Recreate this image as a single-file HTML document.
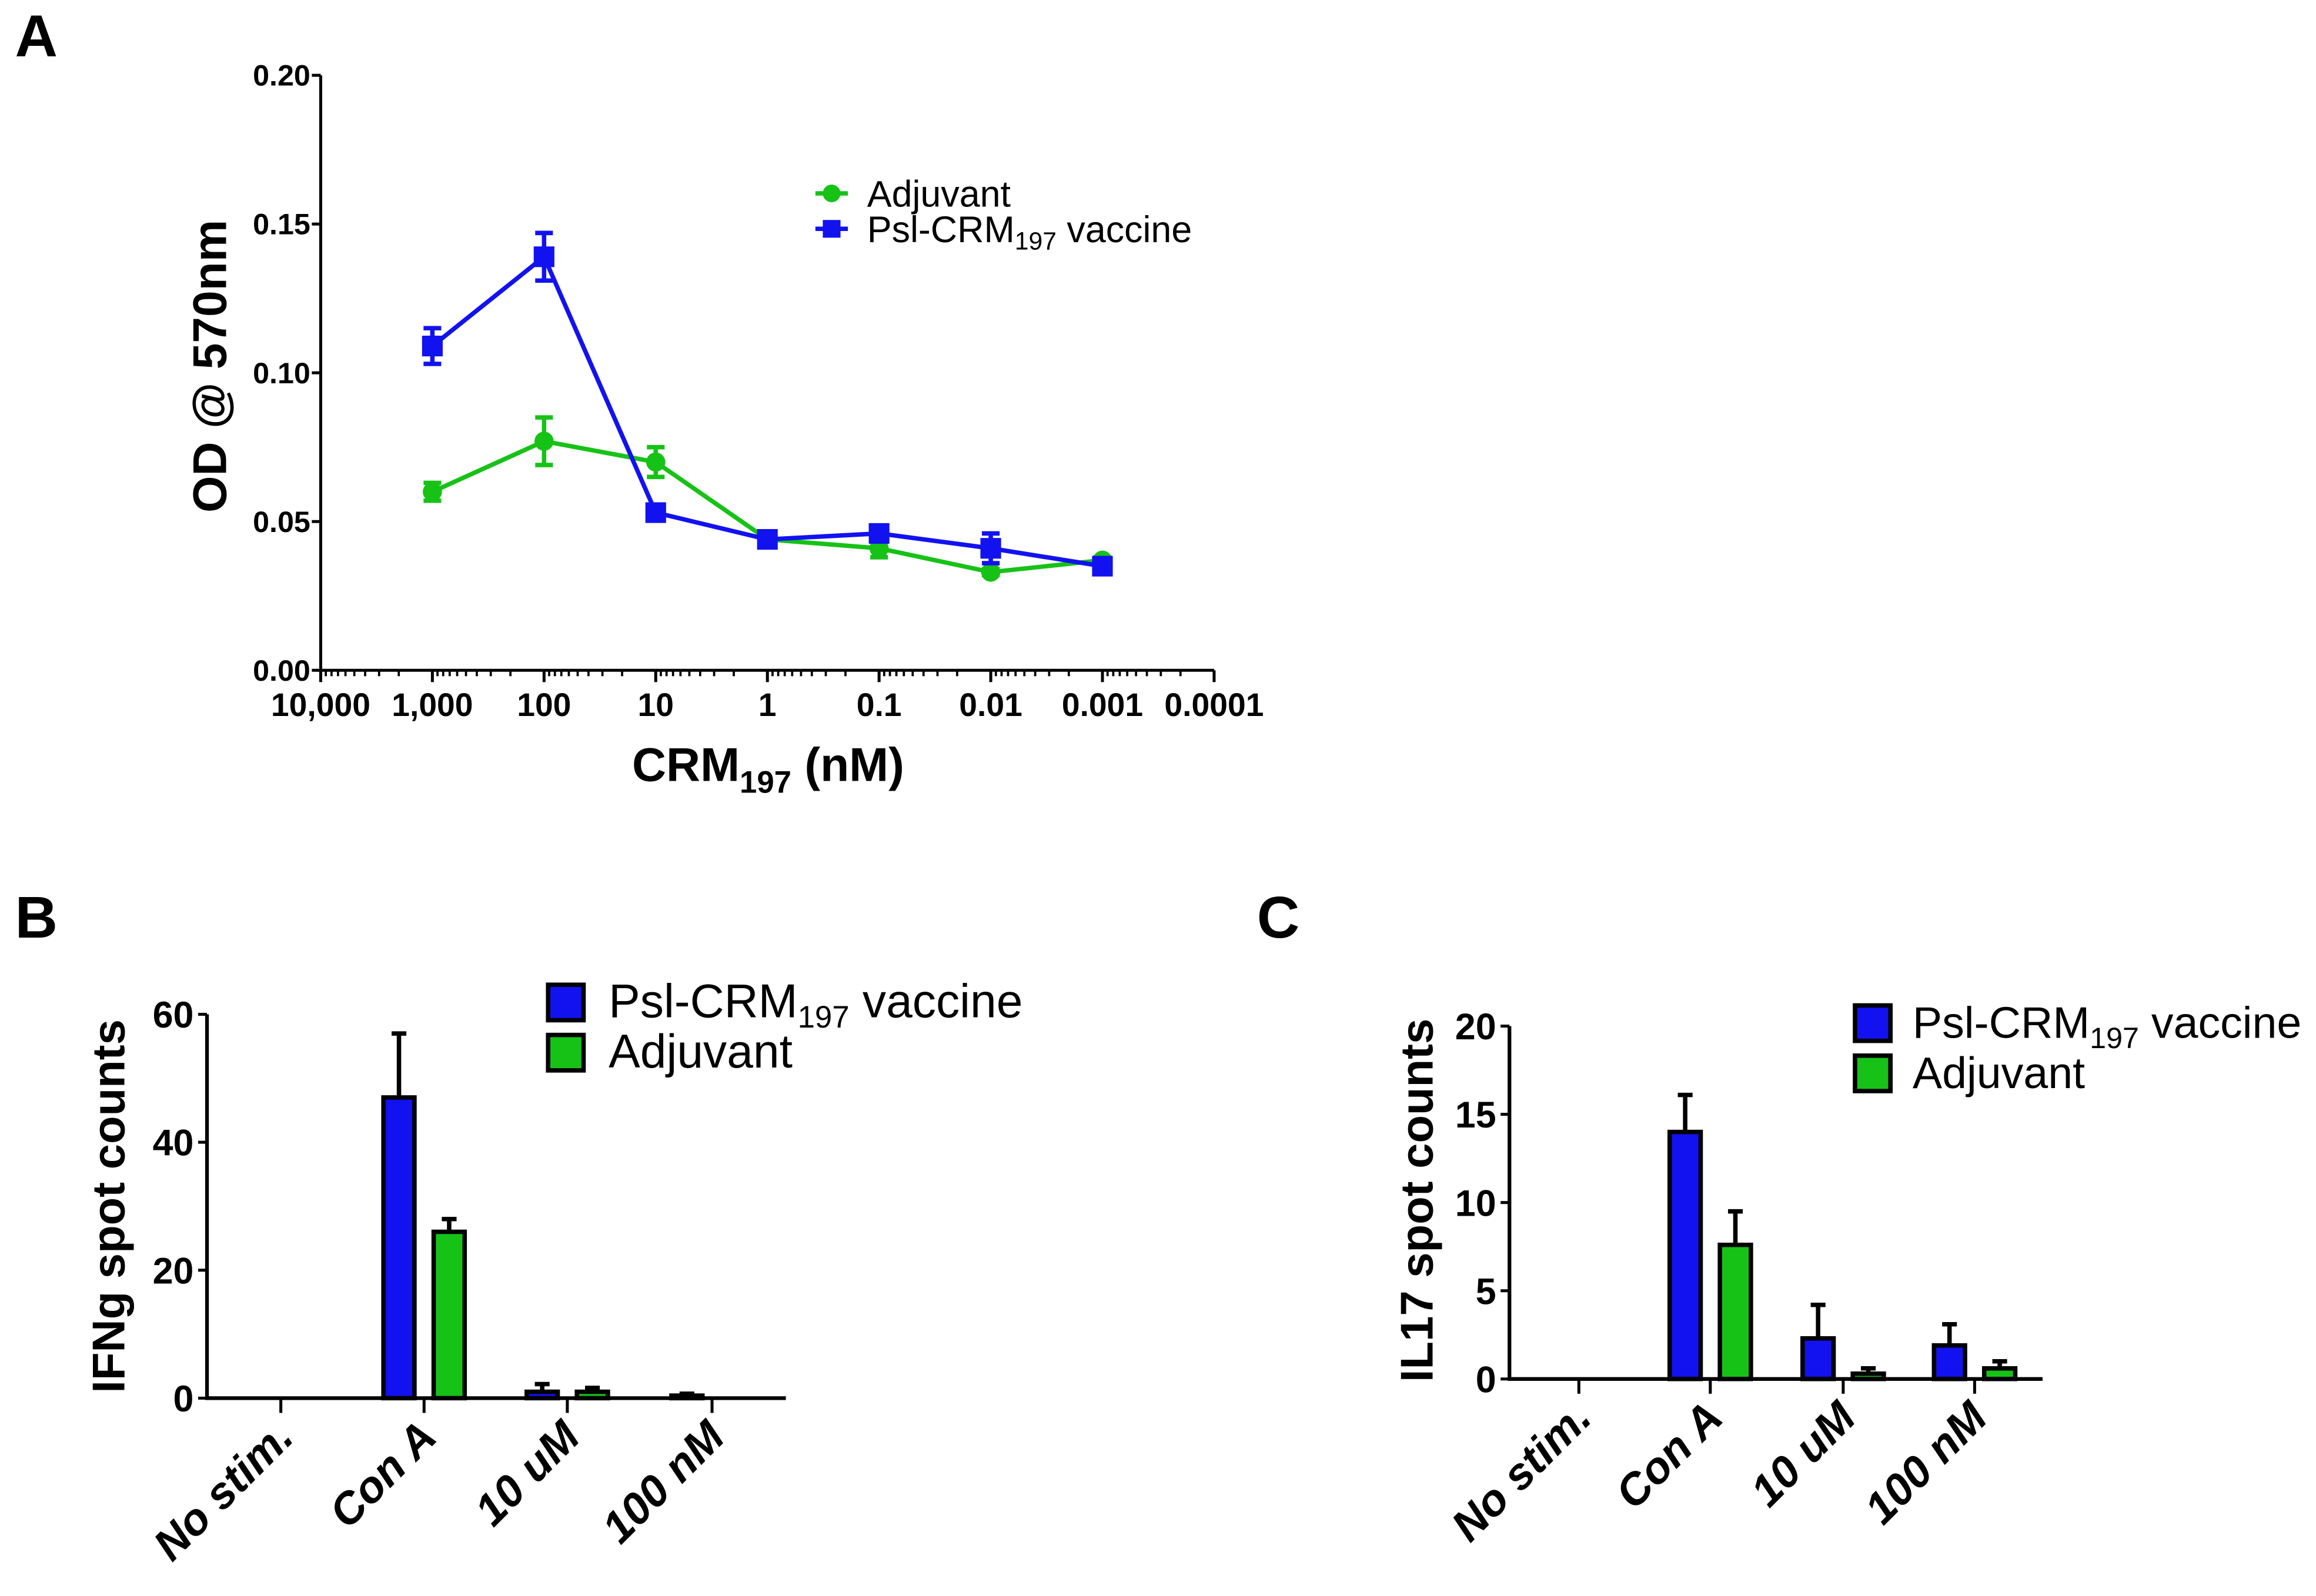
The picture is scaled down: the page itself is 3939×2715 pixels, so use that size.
<!DOCTYPE html>
<html><head><meta charset="utf-8"><style>
html,body{margin:0;padding:0;background:#fff}
svg{display:block}
text{font-family:"Liberation Sans",Arial,sans-serif;font-weight:bold;fill:#000}
</style></head><body>
<svg id="fig" width="3939" height="2715" viewBox="0 0 1568 1081" xmlns="http://www.w3.org/2000/svg">
<g id="pa"></g>
<g id="pb"></g>
<g id="pc"></g>
</svg>
<script>
// Panel A data
const aConc = [1000, 100, 10, 1, 0.1, 0.01, 0.001];
const aAdj = [0.060, 0.077, 0.070, 0.044, 0.041, 0.033, 0.037];
const aAdjErr = [0.003, 0.008, 0.005, 0.002, 0.003, 0.001, 0.001];
const aVac = [0.109, 0.139, 0.053, 0.044, 0.046, 0.041, 0.035];
const aVacErr = [0.006, 0.008, 0.001, 0.002, 0.002, 0.005, 0.001];
const aXTicks = [10000, 1000, 100, 10, 1, 0.1, 0.01, 0.001, 0.0001];
const aXLabels = ["10,000","1,000","100","10","1","0.1","0.01","0.001","0.0001"];
const aYTicks = [0, 0.05, 0.10, 0.15, 0.20];
const aYLabels = ["0.00","0.05","0.10","0.15","0.20"];
// Panel B data
const bCats = ["No stim.","Con A","10 uM","100 nM"];
const bVac = [0, 47, 1, 0.4];
const bVacErr = [0, 10, 1.2, 0.3];
const bAdj = [0, 26, 1, 0];
const bAdjErr = [0, 2, 0.6, 0];
const bYTicks = [0, 20, 40, 60];
// Panel C data
const cCats = ["No stim.","Con A","10 uM","100 nM"];
const cVac = [0, 14, 2.3, 1.9];
const cVacErr = [0, 2.1, 1.9, 1.2];
const cAdj = [0, 7.6, 0.3, 0.6];
const cAdjErr = [0, 1.9, 0.3, 0.4];
const cYTicks = [0, 5, 10, 15, 20];

const NS = "http://www.w3.org/2000/svg";
function mk(parent, tag, attrs, txt){
  const e = document.createElementNS(NS, tag);
  for (const k in attrs) e.setAttribute(k, attrs[k]);
  if (txt !== undefined) e.textContent = txt;
  parent.appendChild(e);
  return e;
}
const GREEN = "#17c217", BLUE = "#1212f0";

// ---------- Panel A ----------
(function(){
  const g = document.getElementById('pa');
  const x0 = 217, x1 = 822, yT = 51, yB = 454;
  const xs = v => x0 + (4 - Math.log10(v)) / 8 * (x1 - x0);
  const ys = v => yB - v / 0.20 * (yB - yT);
  let t = mk(g, 'text', {x: 10, y: 38, 'font-size': 40});
  t.textContent = 'A';
  
  
  let ax = mk(g, 'path', {d: `M${x0},${yT} V${yB} H${x1}`, stroke: '#000', 'stroke-width': 2, fill: 'none'});
  
  
  aYTicks.forEach((v, i) => {
    mk(g, 'line', {x1: x0 - 6, x2: x0, y1: ys(v), y2: ys(v), stroke: '#000', 'stroke-width': 2});
    const l = mk(g, 'text', {x: x0 - 7, y: ys(v) + 7, 'font-size': 20, 'text-anchor': 'end'}, aYLabels[i]);
    
    
  });
  aXTicks.forEach((v, i) => {
    mk(g, 'line', {x1: xs(v), x2: xs(v), y1: yB, y2: yB + 8, stroke: '#000', 'stroke-width': 2});
    const l = mk(g, 'text', {x: xs(v), y: yB + 31, 'font-size': 22, 'text-anchor': 'middle'}, aXLabels[i]);
    
    
    if (i < aXTicks.length - 1) {
      for (let m = 2; m <= 9; m++) {
        const mv = v / 10 * m;
        mk(g, 'line', {x1: xs(mv), x2: xs(mv), y1: yB, y2: yB + 4, stroke: '#000', 'stroke-width': 1.5});
      }
    }
  });
  let yt = mk(g, 'text', {x: 0, y: 0, 'font-size': 32, 'text-anchor': 'middle', transform: 'translate(153,248) rotate(-90)'}, 'OD @ 570nm');
  
  
  let xt = mk(g, 'text', {x: 520, y: 529, 'font-size': 32, 'text-anchor': 'middle'});
  xt.innerHTML = 'CRM<tspan font-size="21" dy="8">197</tspan><tspan dy="-8"> (nM)</tspan>';
  
  
  function series(vals, errs, color, shape, name){
    const sg = mk(g, 'g', {});
    
    
    const pts = aConc.map((c, i) => `${xs(c)},${ys(vals[i])}`).join(' ');
    mk(sg, 'polyline', {points: pts, fill: 'none', stroke: color, 'stroke-width': 3});
    aConc.forEach((c, i) => {
      const x = xs(c), y = ys(vals[i]), e = errs[i];
      const yh = ys(vals[i] + e), yl = ys(vals[i] - e);
      mk(sg, 'path', {d: `M${x},${yh} V${yl} M${x-6},${yh} H${x+6} M${x-6},${yl} H${x+6}`, stroke: color, 'stroke-width': 3, fill: 'none'});
      let m;
      if (shape === 'c') m = mk(sg, 'circle', {cx: x, cy: y, r: 6.5, fill: color});
      else m = mk(sg, 'rect', {x: x - 7, y: y - 7, width: 14, height: 14, fill: color});
      
      
    });
  }
  series(aAdj, aAdjErr, GREEN, 'c', 'adjuvant-series');
  series(aVac, aVacErr, BLUE, 's', 'vaccine-series');
  const lg = mk(g, 'g', {});
  
  
  mk(lg, 'line', {x1: 552, x2: 574, y1: 131, y2: 131, stroke: GREEN, 'stroke-width': 3});
  mk(lg, 'circle', {cx: 563, cy: 131, r: 6, fill: GREEN});
  mk(lg, 'text', {x: 587, y: 140, 'font-size': 25}, 'Adjuvant').style.fontWeight = 'normal';
  mk(lg, 'line', {x1: 552, x2: 574, y1: 155, y2: 155, stroke: BLUE, 'stroke-width': 3});
  mk(lg, 'rect', {x: 557, y: 149, width: 12, height: 12, fill: BLUE});
  const lt = mk(lg, 'text', {x: 587, y: 164, 'font-size': 25});
  lt.style.fontWeight = 'normal';
  lt.innerHTML = 'Psl-CRM<tspan font-size="17" dy="5">197</tspan><tspan dy="-5"> vaccine</tspan>';
})();

// ---------- Bar panels ----------
function barPanel(gid, cfg){
  const g = document.getElementById(gid);
  const {x0, x1, yT, yB, ymax, ticksX, cats, vac, vacErr, adj, adjErr, yTicks, letter, lx, ytitle, ytx, yty, legX, legY, barOff, bw, legFs, legGap} = cfg;
  const ys = v => yB - v / ymax * (yB - yT);
  let t = mk(g, 'text', {x: lx, y: 635, 'font-size': 40}, letter);
  
  
  let ax = mk(g, 'path', {d: `M${x0},${yT} V${yB} H${x1}`, stroke: '#000', 'stroke-width': 2.5, fill: 'none'});
  
  
  yTicks.forEach(v => {
    mk(g, 'line', {x1: x0 - 6, x2: x0, y1: ys(v), y2: ys(v), stroke: '#000', 'stroke-width': 2});
    const l = mk(g, 'text', {x: x0 - 9, y: ys(v) + 9, 'font-size': 25, 'text-anchor': 'end'}, String(v));
    
    
  });
  const yt = mk(g, 'text', {x: 0, y: 0, 'font-size': 31, 'text-anchor': 'middle', transform: `translate(${ytx},${yty}) rotate(-90)`}, ytitle);
  
  
  cats.forEach((c, i) => {
    const cx = ticksX[i];
    mk(g, 'line', {x1: cx, x2: cx, y1: yB, y2: yB + 10, stroke: '#000', 'stroke-width': 2});
    const l = mk(g, 'text', {x: 0, y: 0, 'font-size': 30, 'font-style': 'italic', 'text-anchor': 'end', transform: `translate(${cx + 10},${yB + 28}) rotate(-45)`}, c);
    
    
    [[vac, vacErr, BLUE, -barOff, 'vaccine'], [adj, adjErr, GREEN, barOff, 'adjuvant']].forEach(([vals, errs, col, off, nm]) => {
      const v = vals[i];
      if (v <= 0) return;
      const bx = cx + off - bw / 2, by = ys(v);
      const r = mk(g, 'rect', {x: bx, y: by, width: bw, height: yB - by, fill: col, stroke: '#000', 'stroke-width': 3});
      
      
      const yh = ys(v + errs[i]);
      if (errs[i] > 0) mk(g, 'path', {d: `M${cx + off},${by} V${yh} M${cx + off - 5},${yh} H${cx + off + 5}`, stroke: '#000', 'stroke-width': 3, fill: 'none'});
    });
  });
  const lg = mk(g, 'g', {});
  
  
  mk(lg, 'rect', {x: legX, y: legY, width: 24, height: 24, fill: BLUE, stroke: '#000', 'stroke-width': 3});
  mk(lg, 'rect', {x: legX, y: legY + 34, width: 24, height: 24, fill: GREEN, stroke: '#000', 'stroke-width': 3});
  const l1 = mk(lg, 'text', {x: legX + legGap, y: legY + 22, 'font-size': legFs});
  l1.style.fontWeight = 'normal';
  l1.innerHTML = 'Psl-CRM<tspan font-size="' + Math.round(legFs * 0.66) + '" dy="7">197</tspan><tspan dy="-7"> vaccine</tspan>';
  const l2 = mk(lg, 'text', {x: legX + legGap, y: legY + 56, 'font-size': legFs}, 'Adjuvant');
  l2.style.fontWeight = 'normal';
}
barPanel('pb', {x0: 140, x1: 532, yT: 687, yB: 947, ymax: 60, ticksX: [190, 287, 384, 482],
  cats: bCats, vac: bVac, vacErr: bVacErr, adj: bAdj, adjErr: bAdjErr, yTicks: bYTicks,
  letter: 'B', lx: 10, ytitle: 'IFNg spot counts', ytx: 84, yty: 817, legX: 371, legY: 667, barOff: 17, bw: 21, legFs: 32, legGap: 41});
barPanel('pc', {x0: 1022, x1: 1383, yT: 695, yB: 934, ymax: 20, ticksX: [1069, 1158, 1248, 1337],
  cats: cCats, vac: cVac, vacErr: cVacErr, adj: cAdj, adjErr: cAdjErr, yTicks: cYTicks,
  letter: 'C', lx: 851, ytitle: 'IL17 spot counts', ytx: 970, yty: 813, legX: 1256, legY: 681, barOff: 17, bw: 21, legFs: 30, legGap: 39});
</script>
</body></html>
